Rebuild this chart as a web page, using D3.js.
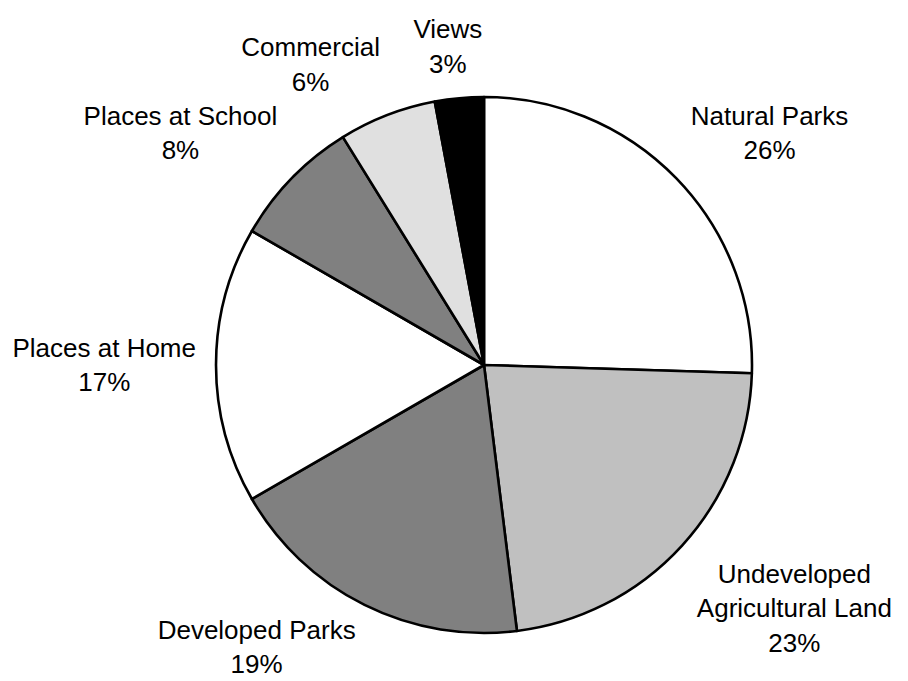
<!DOCTYPE html>
<html>
<head>
<meta charset="utf-8">
<script src="https://cdn.jsdelivr.net/npm/d3@7"></script>
<style>
  html, body { margin: 0; padding: 0; background: #fff; }
  svg { display: block; }
  text { font-family: "Liberation Sans", Arial, sans-serif; fill: #000; }
</style>
</head>
<body>
<svg id="chart" width="908" height="681"></svg>
<script>
// Category labels (one entry per line of the label)
const categoryLines = [
  ["Natural Parks"],
  ["Undeveloped", "Agricultural Land"],
  ["Developed Parks"],
  ["Places at Home"],
  ["Places at School"],
  ["Commercial"],
  ["Views"]
];
// Share of responses, percent
const shares = [26, 23, 19, 17, 8, 6, 3];
// Slice fills
const fills = ["#ffffff", "#c0c0c0", "#808080", "#ffffff", "#808080", "#e0e0e0", "#000000"];

const W = 908, H = 681;
const cx = 484, cy = 365, R = 268;
const fontSize = 26, lineH = 34.5;
const ascent = 0.905 * fontSize, descent = 0.212 * fontSize;
const labelR = R + 20;

const svg = d3.select("#chart");
const g = svg.append("g").attr("transform", `translate(${cx},${cy})`);

const pie = d3.pie().sort(null).value(d => d).startAngle(0).endAngle(2 * Math.PI);
const arc = d3.arc().innerRadius(0).outerRadius(R);
const arcs = pie(shares);

g.selectAll("path.slice")
  .data(arcs)
  .join("path")
  .attr("class", "slice")
  .attr("d", arc)
  .attr("fill", (d, i) => fills[i])
  .attr("stroke", "#000")
  .attr("stroke-width", 2.6)
  .attr("stroke-linejoin", "round");

// Outside-end labels: the box corner nearest the pie sits on a ring just outside it,
// then the box is kept inside the drawing area
const clamp = v => Math.max(-1, Math.min(1, v));
arcs.forEach((d, i) => {
  const lines = categoryLines[i].concat([shares[i] + "%"]);
  const t = g.append("text")
    .attr("font-size", fontSize)
    .attr("text-anchor", "middle");
  const spans = lines.map(s => t.append("tspan").text(s));
  const w = d3.max(spans, s => s.node().getComputedTextLength());
  const h = ascent + (lines.length - 1) * lineH + descent;
  const mid = (d.startAngle + d.endAngle) / 2;
  const ax = Math.sin(mid) * labelR, ay = -Math.cos(mid) * labelR;
  let bx = ax + clamp(3 * Math.sin(mid)) * w / 2;
  let by = ay + clamp(-3 * Math.cos(mid)) * h / 2;
  const pad = 2;
  by = Math.min(by, H - cy - pad - h / 2);
  by = Math.max(by, -cy + pad + h / 2);
  bx = Math.min(bx, W - cx - pad - w / 2);
  bx = Math.max(bx, -cx + pad + w / 2);
  const firstBase = by - h / 2 + ascent;
  spans.forEach((s, k) => s.attr("x", bx).attr("y", firstBase + k * lineH));
});
</script>
</body>
</html>
